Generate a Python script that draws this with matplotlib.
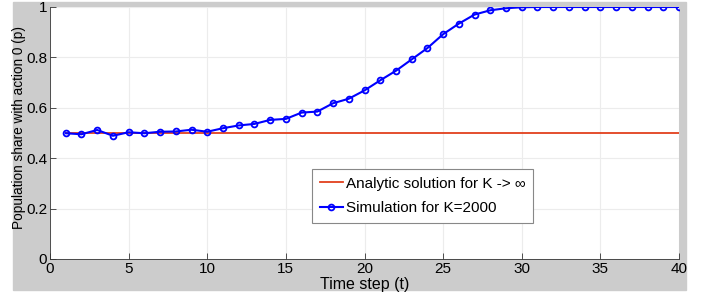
import numpy as np
import matplotlib
matplotlib.use("Agg")
import matplotlib.pyplot as plt
from matplotlib.patches import Rectangle

plt.rcParams['font.family'] = ['Liberation Sans', 'DejaVu Sans']

# time steps and simulated population share
t = list(range(1, 41))
p_sim = [0.499, 0.495, 0.512, 0.489, 0.503, 0.499, 0.505, 0.506, 0.513, 0.505,
         0.519, 0.530, 0.536, 0.552, 0.556, 0.581, 0.585, 0.618, 0.636, 0.669,
         0.709, 0.747, 0.792, 0.837, 0.892, 0.934, 0.970, 0.987, 0.995, 0.999,
         1.0, 1.0, 1.0, 1.0, 1.0, 1.0, 1.0, 1.0, 1.0, 1.0]
p_analytic = [0.5] * len(t)

xticks = [0, 5, 10, 15, 20, 25, 30, 35, 40]
yticks = [0, 0.2, 0.4, 0.6, 0.8, 1]
yticklabels = ['0', '0.2', '0.4', '0.6', '0.8', '1']

fig = plt.figure(figsize=(7.06, 2.94), dpi=100)
# gray matlab-like backdrop
bg = Rectangle((13 / 706, 4 / 294), 673 / 706, 288 / 294,
               transform=fig.transFigure, color='#cccccc', zorder=-10)
fig.add_artist(bg)

ax = fig.add_axes([50 / 706, 35 / 294, 629 / 706, 252 / 294])
ax.set_zorder(1)
ax.set_facecolor('white')

ax.plot(t, p_analytic, color='#e2401c', lw=1.3, label='Analytic solution for K -> \u221e')
ax.plot(t, p_sim, color='#0000ff', lw=1.5, marker='o', ms=4.2, mfc='none', mew=1.3,
        label='Simulation for K=2000')

ax.set_xlim(0, 40)
ax.set_ylim(0, 1)
ax.set_xticks(xticks)
ax.set_yticks(yticks)
ax.set_yticklabels(yticklabels)
ax.tick_params(direction='in', length=4, width=0.6, labelsize=11, pad=2, colors='#333333',
               labelcolor='black', top=False, right=False)
ax.grid(True, color='#ececec', lw=0.8)
ax.set_axisbelow(True)
for side in ['top', 'right']:
    ax.spines[side].set_visible(False)
for side in ['left', 'bottom']:
    ax.spines[side].set_color('#333333')
    ax.spines[side].set_linewidth(0.6)

ax.set_xlabel('Time step (t)', fontsize=11.5, labelpad=1)
ax.set_ylabel('Population share with action 0 (p)', fontsize=9.8, va='center')
ax.yaxis.set_label_coords(-0.05, 0.52)

leg = ax.legend(loc='upper left', bbox_to_anchor=(262 / 629, 90 / 252), borderaxespad=0,
                fontsize=11, handlelength=1.5, handletextpad=0.2, borderpad=0.5,
                labelspacing=0.7, fancybox=False, framealpha=1, edgecolor='#888888')
leg.get_frame().set_linewidth(0.8)

fig.savefig('out.png', dpi=100, facecolor='white')
